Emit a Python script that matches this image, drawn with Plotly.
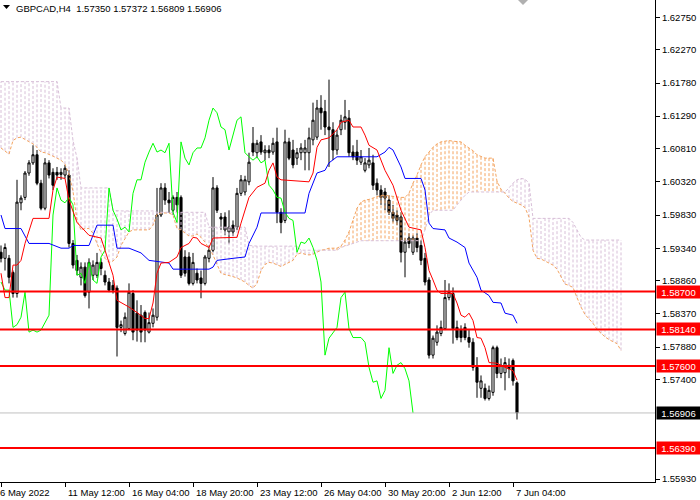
import plotly.graph_objects as go

# GBPCAD H4 candles, bar index 0 = 6 May 2022 20:00
opens = [1.5928, 1.5919, 1.5919, 1.5898, 1.5867, 1.6001, 1.6009, 1.6045, 1.6060, 1.6072,
         1.6030, 1.5993, 1.6060, 1.6046, 1.6046, 1.6043, 1.6042, 1.6042, 1.5941, 1.5916,
         1.5891, 1.5906, 1.5869, 1.5894, 1.5894, 1.5913, 1.5894, 1.5884, 1.5879, 1.5875,
         1.5817, 1.5808, 1.5815, 1.5867, 1.5838, 1.5835, 1.5839, 1.5810, 1.5823, 1.5832,
         1.5983, 1.6023, 1.6005, 1.5990, 1.6009, 1.6009, 1.5921, 1.5921, 1.5882, 1.5897,
         1.5890, 1.5882, 1.5919, 1.5931, 1.6023, 1.5980, 1.5980, 1.5958, 1.5968, 1.5965,
         1.6015, 1.6017, 1.6032, 1.6089, 1.6075, 1.6091, 1.6075, 1.6079, 1.6076, 1.6091,
         1.5987, 1.5975, 1.6091, 1.6079, 1.6067, 1.6075, 1.6075, 1.6075, 1.6094, 1.6098,
         1.6141, 1.6136, 1.6113, 1.6109, 1.6079, 1.6109, 1.6120, 1.6126, 1.6076, 1.6076,
         1.6061, 1.6049, 1.6057, 1.6060, 1.6030, 1.6020, 1.6017, 1.6005, 1.5987, 1.5983,
         1.5980, 1.5928, 1.5949, 1.5928, 1.5949, 1.5938, 1.5919, 1.5887, 1.5776, 1.5795,
         1.5808, 1.5815, 1.5861, 1.5867, 1.5817, 1.5813, 1.5817, 1.5802, 1.5795, 1.5758,
         1.5727, 1.5727, 1.5712, 1.5721, 1.5787, 1.5749, 1.5750, 1.5761, 1.5768, 1.57350]
highs = [1.5938, 1.5941, 1.5924, 1.5901, 1.6035, 1.6012, 1.6048, 1.6064, 1.6086, 1.6079,
         1.6035, 1.6067, 1.6064, 1.6052, 1.6054, 1.6052, 1.6057, 1.6049, 1.5946, 1.5924,
         1.5913, 1.5913, 1.5919, 1.5916, 1.5927, 1.5919, 1.5901, 1.5890, 1.5887, 1.5879,
         1.5827, 1.5839, 1.5882, 1.5872, 1.5857, 1.5850, 1.5842, 1.5839, 1.5845, 1.6023,
         1.6030, 1.6030, 1.6017, 1.6012, 1.6017, 1.6012, 1.5931, 1.5928, 1.5927, 1.5904,
         1.5901, 1.5924, 1.5938, 1.6039, 1.6027, 1.5986, 1.5987, 1.5990, 1.5975, 1.6023,
         1.6042, 1.6041, 1.6075, 1.6113, 1.6094, 1.6101, 1.6086, 1.6086, 1.6097, 1.6112,
         1.5993, 1.6109, 1.6097, 1.6094, 1.6082, 1.6089, 1.6094, 1.6112, 1.6149, 1.6153,
         1.6160, 1.6153, 1.6183, 1.6120, 1.6109, 1.6131, 1.6153, 1.6138, 1.6086, 1.6094,
         1.6079, 1.6067, 1.6082, 1.6072, 1.6037, 1.6027, 1.6023, 1.6012, 1.5998, 1.5990,
         1.5987, 1.5949, 1.5956, 1.5953, 1.5956, 1.5946, 1.5927, 1.5891, 1.5805, 1.5820,
         1.5827, 1.5887, 1.5882, 1.5876, 1.5827, 1.5820, 1.5823, 1.5813, 1.5801, 1.5773,
         1.5746, 1.5734, 1.5731, 1.5790, 1.5790, 1.5771, 1.5773, 1.5771, 1.5771, 1.57372]
lows = [1.5913, 1.5901, 1.5882, 1.5861, 1.5861, 1.5990, 1.6005, 1.6041, 1.6057, 1.6027,
        1.5990, 1.5990, 1.6037, 1.6020, 1.6035, 1.6035, 1.6037, 1.5935, 1.5904, 1.5894,
        1.5879, 1.5861, 1.5845, 1.5887, 1.5890, 1.5894, 1.5879, 1.5869, 1.5867, 1.5774,
        1.5810, 1.5805, 1.5813, 1.5798, 1.5796, 1.5795, 1.5795, 1.5808, 1.5817, 1.5827,
        1.5980, 1.5998, 1.5986, 1.5983, 1.5987, 1.5890, 1.5892, 1.5879, 1.5879, 1.5882,
        1.5860, 1.5879, 1.5913, 1.5928, 1.5986, 1.5961, 1.5953, 1.5941, 1.5952, 1.5961,
        1.6011, 1.6012, 1.6027, 1.6070, 1.6067, 1.6072, 1.6064, 1.6067, 1.6072, 1.5971,
        1.5956, 1.5971, 1.6064, 1.6052, 1.6057, 1.6064, 1.6049, 1.6049, 1.6086, 1.6094,
        1.6109, 1.6101, 1.6054, 1.6064, 1.6072, 1.6101, 1.6109, 1.6069, 1.6064, 1.6057,
        1.6057, 1.6046, 1.6052, 1.6020, 1.6012, 1.5998, 1.5990, 1.5983, 1.5972, 1.5968,
        1.5913, 1.5891, 1.5934, 1.5924, 1.5928, 1.5909, 1.5879, 1.5771, 1.5771, 1.5790,
        1.5804, 1.5813, 1.5857, 1.5793, 1.5798, 1.5795, 1.5798, 1.5787, 1.5753, 1.5713,
        1.5713, 1.5709, 1.5709, 1.5716, 1.5742, 1.5742, 1.5724, 1.5742, 1.5731, 1.56809]
closes = [1.5919, 1.5935, 1.5891, 1.5867, 1.6002, 1.6008, 1.6045, 1.6060, 1.6072, 1.6030,
          1.5993, 1.6060, 1.6042, 1.6027, 1.6042, 1.6046, 1.6052, 1.5941, 1.5909, 1.5901,
          1.5906, 1.5864, 1.5913, 1.5909, 1.5913, 1.5904, 1.5884, 1.5872, 1.5872, 1.5817,
          1.5821, 1.5832, 1.5869, 1.5810, 1.5813, 1.5810, 1.5813, 1.5824, 1.5835, 1.5983,
          1.6023, 1.6005, 1.6001, 1.6009, 1.5998, 1.5894, 1.5897, 1.5882, 1.5913, 1.5887,
          1.5882, 1.5921, 1.5931, 1.6023, 1.5990, 1.5977, 1.5961, 1.5965, 1.5958, 1.6015,
          1.6035, 1.6035, 1.6061, 1.6076, 1.6089, 1.6076, 1.6079, 1.6075, 1.6089, 1.5987,
          1.5972, 1.6091, 1.6067, 1.6057, 1.6075, 1.6082, 1.6082, 1.6097, 1.6123, 1.6141,
          1.6134, 1.6113, 1.6109, 1.6079, 1.6101, 1.6123, 1.6128, 1.6075, 1.6069, 1.6064,
          1.6069, 1.6060, 1.6064, 1.6027, 1.6020, 1.6009, 1.6008, 1.5987, 1.5978, 1.5975,
          1.5928, 1.5943, 1.5941, 1.5949, 1.5935, 1.5916, 1.5884, 1.5776, 1.5801, 1.5810,
          1.5817, 1.5861, 1.5869, 1.5815, 1.5802, 1.5802, 1.5802, 1.5795, 1.5758, 1.5736,
          1.5738, 1.5712, 1.5724, 1.5787, 1.5749, 1.5761, 1.5765, 1.5756, 1.5738, 1.56906]
bars = list(range(len(closes)))

# Tenkan-sen (red) and Kijun-sen (blue), read as (bar, price) vertices
tenkan_x = [0, 1, 2, 3, 4, 5, 6, 8, 12, 13, 14, 16, 17, 19, 22, 25, 26, 27, 28, 29,
            32, 34, 36, 37, 38, 39, 40, 42, 44, 45, 47, 48, 49, 50, 52, 53, 57, 59, 60, 61,
            62, 64, 66, 67, 68, 69, 70, 77, 78, 79, 80, 82, 84, 85, 87, 88, 90, 91, 92, 94,
            95, 96, 98, 100, 102, 105, 106, 107, 108, 109, 110, 113, 114, 115, 116, 117, 118, 119, 120, 121,
            122, 124, 126, 128, 129]
tenkan_y = [1.5897, 1.5861, 1.5861, 1.5909, 1.5909, 1.5916, 1.5941, 1.5978, 1.5978, 1.6020,
            1.6039, 1.6037, 1.6005, 1.5972, 1.5953, 1.5949, 1.5931, 1.5913, 1.5894, 1.5857,
            1.5847, 1.5839, 1.5830, 1.5830, 1.5853, 1.5897, 1.5912, 1.5913, 1.5921, 1.5935,
            1.5941, 1.5950, 1.5949, 1.5941, 1.5935, 1.5949, 1.5949, 1.5950, 1.5971, 1.5990,
            1.6009, 1.6024, 1.6030, 1.6049, 1.6060, 1.6039, 1.6035, 1.6032, 1.6045, 1.6083,
            1.6094, 1.6097, 1.6109, 1.6120, 1.6123, 1.6113, 1.6113, 1.6101, 1.6086, 1.6079,
            1.6064, 1.6049, 1.6027, 1.5990, 1.5965, 1.5961, 1.5935, 1.5901, 1.5887, 1.5872,
            1.5867, 1.5867, 1.5853, 1.5835, 1.5832, 1.5838, 1.5827, 1.5802, 1.5801, 1.5787,
            1.5765, 1.5764, 1.5758, 1.5753, 1.5739]
kijun_x = [0, 1, 5, 6, 7, 12, 15, 17, 18, 22, 24, 28, 29, 32, 35, 37, 42, 43, 52, 53,
           54, 58, 61, 62, 64, 65, 76, 77, 79, 81, 82, 84, 94, 96, 97, 98, 100, 101, 105, 106,
           107, 108, 111, 112, 114, 116, 117, 119, 120, 122, 123, 125, 126, 128, 129]
kijun_y = [1.5983, 1.5963, 1.5963, 1.5953, 1.5941, 1.5941, 1.5934, 1.5934, 1.5938, 1.5938,
           1.5968, 1.5968, 1.5934, 1.5934, 1.5927, 1.5916, 1.5912, 1.5903, 1.5903, 1.5906,
           1.5916, 1.5919, 1.5921, 1.5941, 1.5965, 1.5986, 1.5986, 1.6015, 1.6045, 1.6049,
           1.6060, 1.6069, 1.6069, 1.6076, 1.6083, 1.6079, 1.6054, 1.6037, 1.6037, 1.6020,
           1.5971, 1.5963, 1.5961, 1.5949, 1.5943, 1.5935, 1.5912, 1.5891, 1.5872, 1.5864,
           1.5854, 1.5853, 1.5838, 1.5835, 1.5823]

# Senkou span A / B, one value per bar (cloud runs 26 bars past the last candle)
span_a = [1.6082, 1.6078, 1.6073, 1.6093, 1.6097, 1.6098, 1.6095, 1.6092, 1.6088, 1.6083,
          1.6076, 1.6075, 1.6073, 1.6070, 1.6067, 1.6064, 1.6058, 1.6043, 1.6018, 1.5975,
          1.5961, 1.5963, 1.5963, 1.5956, 1.5941, 1.5927, 1.5919, 1.5913, 1.5915, 1.5921,
          1.5938, 1.5949, 1.5958, 1.5961, 1.5961, 1.5961, 1.5961, 1.5961, 1.5968, 1.5984,
          1.5986, 1.5986, 1.5986, 1.5983, 1.5963, 1.5961, 1.5956, 1.5952, 1.5952, 1.5955,
          1.5950, 1.5943, 1.5934, 1.5924, 1.5910, 1.5897, 1.5895, 1.5894, 1.5892, 1.5890,
          1.5887, 1.5884, 1.5879, 1.5875, 1.5882, 1.5901, 1.5910, 1.5913, 1.5912, 1.5909,
          1.5907, 1.5910, 1.5913, 1.5916, 1.5925, 1.5927, 1.5925, 1.5924, 1.5925, 1.5928,
          1.5931, 1.5932, 1.5934, 1.5934, 1.5934, 1.5937, 1.5946, 1.5958, 1.5975, 1.5993,
          1.6002, 1.6005, 1.6006, 1.6008, 1.6011, 1.6012, 1.6012, 1.6011, 1.6011, 1.6009,
          1.6009, 1.6009, 1.6015, 1.6030, 1.6042, 1.6057, 1.6069, 1.6076, 1.6083, 1.6088,
          1.6091, 1.6092, 1.6093, 1.6092, 1.6092, 1.6091, 1.6086, 1.6082, 1.6078, 1.6072,
          1.6069, 1.6067, 1.6067, 1.6067, 1.6033, 1.6021, 1.6015, 1.6008, 1.6003, 1.6001,
          1.5998, 1.5994, 1.5980, 1.5931, 1.5919, 1.5918, 1.5915, 1.5913, 1.5909, 1.5903,
          1.5891, 1.5881, 1.5879, 1.5876, 1.5861, 1.5847, 1.5836, 1.5830, 1.5823, 1.5814,
          1.5808, 1.5803, 1.5799, 1.5796, 1.5793, 1.5783]
span_b = ([1.6180] * 15 + [1.6141] * 3 + [1.6093, 1.6067] + [1.6023] * 8 + [1.5990]
          + [1.5989] * 10 + [1.5987] * 13 + [1.5965] * 10 + [1.5938] + [1.5937] * 12
          + [1.5931] * 10 + [1.5935, 1.5937, 1.5938, 1.5940, 1.5943] + [1.5945] * 16
          + [1.5961, 1.5983] + [1.5990] * 6 + [1.5998, 1.6005, 1.6012] + [1.6017] * 10
          + [1.6023, 1.6030, 1.6035, 1.6037, 1.6036, 1.6030] + [1.5978] * 10
          + [1.5972, 1.5961, 1.5950] + [1.5946] * 10)
cloud_bars = list(range(len(span_a)))

levels = [1.58700, 1.58140, 1.57600, 1.56390]
last_price = 1.56906

y_ticks = [1.62750, 1.62270, 1.61780, 1.61290, 1.60810, 1.60320, 1.59830,
           1.59340, 1.58860, 1.58370, 1.57880, 1.57400, 1.55930]
x_tick_bars = [0, 16, 32, 48, 64, 80, 96, 112, 128]
x_tick_text = ['6 May 2022', '11 May 12:00', '16 May 04:00', '18 May 20:00', '23 May 12:00',
               '26 May 04:00', '30 May 20:00', '2 Jun 12:00', '7 Jun 04:00']

FONT = 'Liberation Sans'
fig = go.Figure()

fig.add_trace(go.Candlestick(
    x=bars, open=opens, high=highs, low=lows, close=closes,
    increasing=dict(line=dict(color='black', width=1), fillcolor='white'),
    decreasing=dict(line=dict(color='black', width=1), fillcolor='black'),
    whiskerwidth=0, hoverinfo='skip', showlegend=False))

# kumo hatching: a dotted vertical stroke per bar between span A and span B
up_x, up_y, dn_x, dn_y = [], [], [], []
for i, a, b in zip(cloud_bars, span_a, span_b):
    if a >= b:
        up_x += [i, i, None]
        up_y += [a, b, None]
    else:
        dn_x += [i, i, None]
        dn_y += [a, b, None]
fig.add_trace(go.Scatter(x=up_x, y=up_y, mode='lines', hoverinfo='skip', showlegend=False,
                         line=dict(color='#F4A460', width=1, dash='3px,2px')))
fig.add_trace(go.Scatter(x=dn_x, y=dn_y, mode='lines', hoverinfo='skip', showlegend=False,
                         line=dict(color='#D8BFD8', width=1, dash='3px,2px')))
fig.add_trace(go.Scatter(x=cloud_bars, y=span_a, mode='lines', hoverinfo='skip', showlegend=False,
                         line=dict(color='#F4A460', width=1, dash='3px,2px')))
fig.add_trace(go.Scatter(x=cloud_bars, y=span_b, mode='lines', hoverinfo='skip', showlegend=False,
                         line=dict(color='#D8BFD8', width=1, dash='3px,2px')))

# chikou span = closes drawn 26 bars back
fig.add_trace(go.Scatter(x=bars[:-26], y=closes[26:], mode='lines', hoverinfo='skip',
                         showlegend=False, line=dict(color='#00FF00', width=1)))
fig.add_trace(go.Scatter(x=kijun_x, y=kijun_y, mode='lines', hoverinfo='skip',
                         showlegend=False, line=dict(color='#0000FF', width=1)))
fig.add_trace(go.Scatter(x=tenkan_x, y=tenkan_y, mode='lines', hoverinfo='skip',
                         showlegend=False, line=dict(color='#FF0000', width=1)))

# bid line and horizontal levels
fig.add_shape(type='line', xref='paper', x0=0, x1=1, y0=last_price, y1=last_price,
              line=dict(color='#C0C0C0', width=1))
for lv in levels:
    fig.add_shape(type='line', xref='paper', x0=0, x1=1, y0=lv, y1=lv,
                  line=dict(color='#FF0000', width=2))
    fig.add_annotation(xref='paper', x=1, y=lv, xanchor='left', xshift=1, text='%.5f' % lv,
                       showarrow=False, bgcolor='#FF0000', width=41, height=10, borderpad=1,
                       font=dict(family=FONT, size=9.5, color='white'))
fig.add_annotation(xref='paper', x=1, y=last_price, xanchor='left', xshift=1,
                   text='%.5f' % last_price, showarrow=False, bgcolor='black', width=41,
                   height=10, borderpad=1, font=dict(family=FONT, size=9.5, color='white'))

# x labels sit to the right of their ticks, as in MT4
for b, t in zip(x_tick_bars, x_tick_text):
    fig.add_annotation(x=b, yref='paper', y=0, yanchor='top', yshift=-3, xanchor='left',
                       xshift=-3 if b == 0 else 1, text=t, showarrow=False,
                       font=dict(family=FONT, size=9.5, color='black'))

# header and chart-shift marker
fig.add_shape(type='path', xref='paper', yref='paper', xsizemode='pixel', ysizemode='pixel',
              xanchor=0, yanchor=1, path='M 3,-5 L 10,-5 L 6.5,-9 Z',
              fillcolor='black', line=dict(width=0))
fig.add_annotation(xref='paper', yref='paper', x=0, y=1, xanchor='left', yanchor='top',
                   xshift=14, yshift=-1, showarrow=False,
                   text='GBPCAD,H4  1.57350 1.57372 1.56809 1.56906',
                   font=dict(family=FONT, size=9.5, color='black'))
fig.add_shape(type='path', xref='x', yref='paper', xsizemode='pixel', ysizemode='pixel',
              xanchor=130.5, yanchor=1, path='M -5,0 L 5,0 L 0,-5 Z',
              fillcolor='#B0B0B0', line=dict(width=0))

fig.update_layout(
    width=700, height=500,
    margin=dict(l=0, r=45, t=0, b=18),
    paper_bgcolor='white', plot_bgcolor='white',
    boxgap=0.25,
    xaxis=dict(range=[-0.25, 163.5], showgrid=False, zeroline=False, rangeslider=dict(visible=False),
               tickvals=x_tick_bars, showticklabels=False, ticks='outside', ticklen=4,
               tickcolor='black', showline=True, linecolor='black', linewidth=1),
    yaxis=dict(range=[1.55886, 1.63006], side='right', showgrid=False, zeroline=False,
               tickvals=y_ticks, ticktext=['%.5f' % v for v in y_ticks], ticks='outside',
               ticklen=4, tickcolor='black', showline=True, linecolor='black', linewidth=1,
               tickfont=dict(family=FONT, size=9.5, color='black')),
)

# the page is exactly 700x500, so drop the default body margin
fig.write_html('out.html', config={'displayModeBar': False},
               post_script="document.body.style.margin='0';")
